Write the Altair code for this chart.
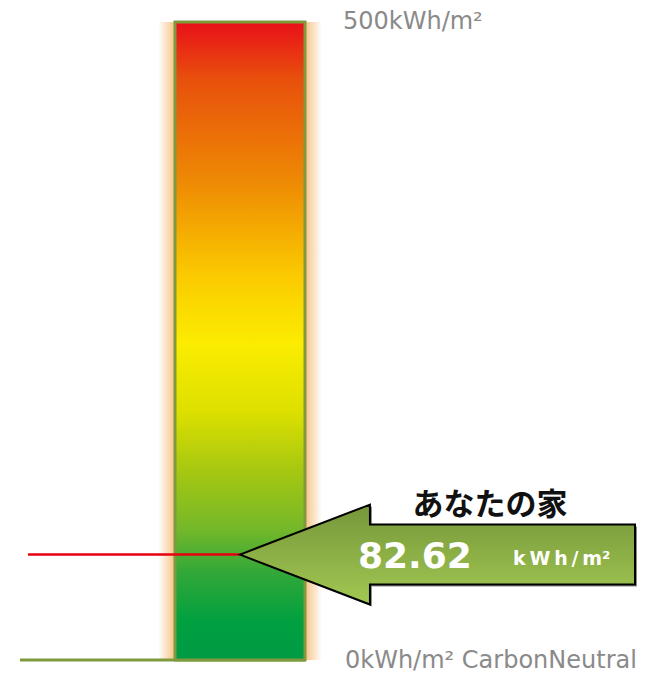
import altair as alt
import pandas as pd

# ---- data ----
scale_min = [0]
scale_max = [500]
house_value = [82.62]
top_label = ["500kWh/m²"]
bottom_label = ["0kWh/m² CarbonNeutral"]
house_label = ["あなたの家"]
unit_label = ["k\u2009W\u2009h\u2009/\u2009m²"]

bar_df = pd.DataFrame({"top": scale_max, "bottom": scale_min})
top_df = pd.DataFrame({"v": scale_max, "t": top_label})
bot_df = pd.DataFrame({"v": scale_min, "t": bottom_label})
val_df = pd.DataFrame({
    "value": house_value,
    "num": [f"{v:.2f}" for v in house_value],
    "house": house_label,
    "unit": unit_label,
})

y_scale = alt.Scale(domain=[0, 500], range=[652, 14])

bar_grad = alt.Gradient(
    gradient="linear", x1=0, x2=0, y1=0, y2=1,
    stops=[
        alt.GradientStop(offset=0.0, color="#e8101a"),
        alt.GradientStop(offset=0.09, color="#e8500c"),
        alt.GradientStop(offset=0.25, color="#ee8a04"),
        alt.GradientStop(offset=0.40, color="#fbcb00"),
        alt.GradientStop(offset=0.505, color="#fbec00"),
        alt.GradientStop(offset=0.61, color="#dde000"),
        alt.GradientStop(offset=0.70, color="#a8c810"),
        alt.GradientStop(offset=0.795, color="#74b82a"),
        alt.GradientStop(offset=0.86, color="#34a838"),
        alt.GradientStop(offset=0.94, color="#00a040"),
        alt.GradientStop(offset=1.0, color="#009a44"),
    ],
)

glow_grad = alt.Gradient(
    gradient="linear", x1=0, x2=1, y1=0, y2=0,
    stops=[
        alt.GradientStop(offset=0.0, color="#ffffff"),
        alt.GradientStop(offset=0.10, color="#f7c48a"),
        alt.GradientStop(offset=0.90, color="#f7c48a"),
        alt.GradientStop(offset=1.0, color="#ffffff"),
    ],
)

arrow_grad = alt.Gradient(
    gradient="linear", x1=0, x2=0, y1=0, y2=1,
    stops=[
        alt.GradientStop(offset=0.0, color="#76963a"),
        alt.GradientStop(offset=1.0, color="#a2c852"),
    ],
)

glow = alt.Chart(bar_df).mark_rect(fill=glow_grad).encode(
    x=alt.value(150), x2=alt.value(314),
    y=alt.Y("top:Q", scale=y_scale, axis=None), y2="bottom:Q",
)

baseline = alt.Chart(bar_df).mark_rule(color="#7f9a3c", strokeWidth=3).encode(
    x=alt.value(12), x2=alt.value(297), y=alt.Y("bottom:Q", scale=y_scale, axis=None),
)

bar = alt.Chart(bar_df).mark_rect(fill=bar_grad, stroke="#7f9a3c", strokeWidth=3).encode(
    x=alt.value(167), x2=alt.value(297),
    y=alt.Y("top:Q", scale=y_scale, axis=None), y2="bottom:Q",
)

red = alt.Chart(val_df).mark_rule(color="#e60012", strokeWidth=2.5).encode(
    x=alt.value(20), x2=alt.value(234), y=alt.Y("value:Q", scale=y_scale, axis=None),
)

arrow_path = ("M -1 0 L -0.342 -0.253 L -0.342 -0.152 L 1 -0.152 "
              "L 1 0.152 L -0.342 0.152 L -0.342 0.253 Z")

shadow = alt.Chart(val_df).mark_point(
    shape=arrow_path, size=395 ** 2, filled=True, fill="#000000", opacity=0.45,
    strokeWidth=0, xOffset=2, yOffset=2,
).encode(x=alt.value(429.5), y=alt.Y("value:Q", scale=y_scale, axis=None))

arrow = alt.Chart(val_df).mark_point(
    shape=arrow_path, size=395 ** 2, filled=True, fill=arrow_grad, opacity=1,
    stroke="#000000", strokeWidth=2,
).encode(x=alt.value(429.5), y=alt.Y("value:Q", scale=y_scale, axis=None))

house_txt = alt.Chart(val_df).mark_text(
    font="Noto Sans CJK JP", fontSize=31, fontWeight="bold", color="#111111",
    align="center", baseline="middle", dy=-49,
).encode(x=alt.value(482), y=alt.Y("value:Q", scale=y_scale, axis=None), text="house:N")

num_txt = alt.Chart(val_df).mark_text(
    font="DejaVu Sans", fontSize=36, fontWeight="bold", color="#ffffff",
    align="left", baseline="middle", dy=2,
).encode(x=alt.value(350), y=alt.Y("value:Q", scale=y_scale, axis=None), text="num:N")

unit_txt = alt.Chart(val_df).mark_text(
    font="DejaVu Sans", fontSize=19, fontWeight="bold", color="#ffffff",
    align="left", baseline="middle", dy=4,
).encode(x=alt.value(505), y=alt.Y("value:Q", scale=y_scale, axis=None), text="unit:N")

top_txt = alt.Chart(top_df).mark_text(
    font="DejaVu Sans", fontSize=24, color="#8a8a8a", align="left", baseline="middle",
).encode(x=alt.value(335), y=alt.Y("v:Q", scale=y_scale, axis=None), text="t:N")

bot_txt = alt.Chart(bot_df).mark_text(
    font="DejaVu Sans", fontSize=24, color="#8a8a8a", align="left", baseline="middle", dy=1,
).encode(x=alt.value(337), y=alt.Y("v:Q", scale=y_scale, axis=None), text="t:N")

chart = alt.layer(
    glow, baseline, bar, red, shadow, arrow, house_txt, num_txt, unit_txt, top_txt, bot_txt
).properties(width=637, height=657, padding=0, background="white").configure_view(stroke=None)

chart.save("out.html", embed_options={"renderer": "svg", "actions": False})
